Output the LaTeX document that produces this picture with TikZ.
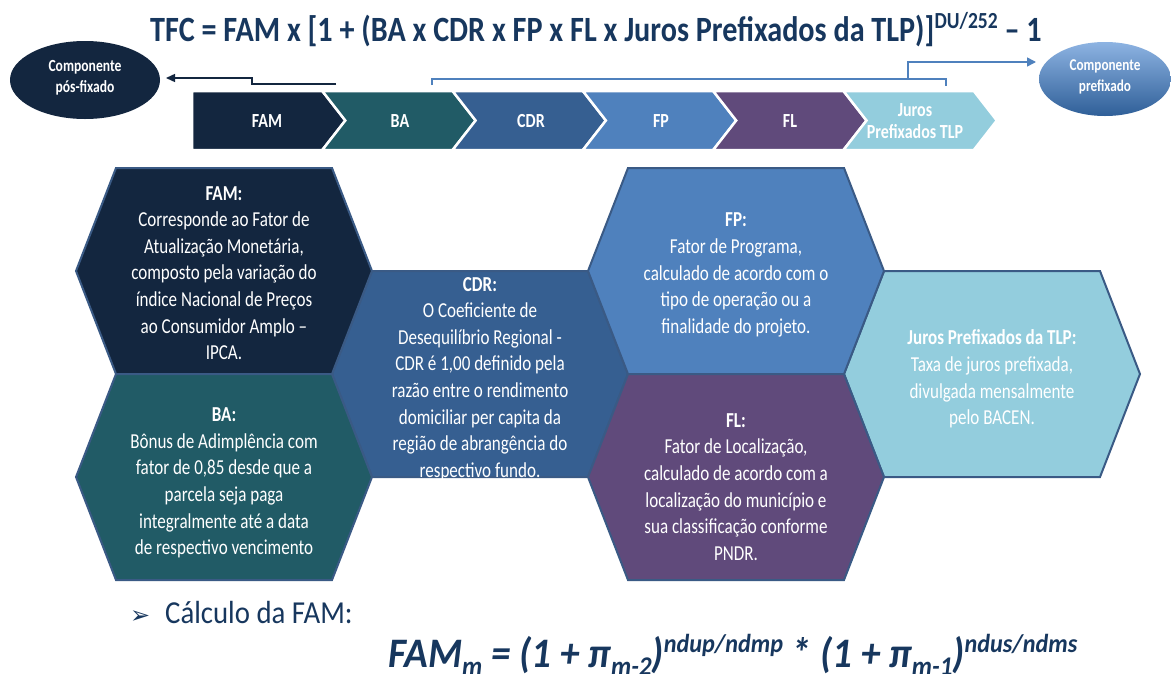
\documentclass[tikz,border=0pt]{standalone}
\usepackage{fontspec}
\setmainfont{Carlito}[FakeStretch=0.8]
\newfontfamily\titlefont{Carlito}[FakeStretch=0.85]
\newfontfamily\calcfont{Carlito}[FakeStretch=0.9]
\newfontfamily\formfont{Carlito}[FakeStretch=0.93]
\newfontfamily\dejavu{DejaVu Sans}
\usetikzlibrary{shapes.geometric,arrows.meta}
\definecolor{cNavy}{HTML}{13263F}
\definecolor{cFAM}{HTML}{13263F}
\definecolor{cBA}{HTML}{215B66}
\definecolor{cCDR}{HTML}{365F91}
\definecolor{cFP}{HTML}{4F81BD}
\definecolor{cFL}{HTML}{604A7B}
\definecolor{cJur}{HTML}{93CDDD}
\definecolor{cTitle}{HTML}{17375E}
\definecolor{cEdge}{HTML}{3A5A85}
\definecolor{cLine}{HTML}{4F81BD}
\definecolor{cEllTop}{HTML}{8DB3E2}
\definecolor{cEllBot}{HTML}{2F5F98}
\newcommand\myhex[3]{%
  \filldraw[hexbox, fill=#3] (#1-148,#2) -- (#1-108,#2-103) -- (#1+108,#2-103) -- (#1+148,#2) -- (#1+108,#2+103) -- (#1-108,#2+103) -- cycle;}
\newcommand\mychev[3]{%
  \filldraw[chevbox, fill=#2] (#1,91) -- (#1+130.3,91) -- (#1+153.3,120.5) -- (#1+130.3,150) -- (#1,150) -- (#1+#3*23,120.5) -- cycle;}
\newcommand\mysubs[1]{\raisebox{-8pt}{\fontsize{27}{28}\selectfont #1}}
\newcommand\mysups[1]{\raisebox{15pt}{\fontsize{26}{28}\selectfont #1}}
\tikzset{
  hexbox/.style={draw=cEdge, line width=2pt, line join=miter},
  chevbox/.style={draw=white, line width=2.5pt, line join=miter},
  chevlabel/.style={text=white, font=\bfseries\fontsize{20}{22}\selectfont, align=center, inner sep=0},
  hextext/.style={text=white, align=center, font=\fontsize{21.3}{26.6}\selectfont, inner sep=0},
  elltext/.style={text=white, align=center, font=\bfseries\fontsize{17}{21}\selectfont, inner sep=0},
  navyline/.style={draw=cNavy, line width=1.4pt},
  blueline/.style={draw=cLine, line width=1.6pt},
}
\begin{document}
\begin{tikzpicture}[x=1pt, y=-1pt]
\useasboundingbox (0,0) rectangle (1171,673);
\fill[white] (0,0) rectangle (1171,673);
% title
\node[anchor=base west, inner sep=0, text=cTitle, font=\titlefont\bfseries\fontsize{35.5}{38}\selectfont] (title) at (150,41)
  {TFC = FAM x [1 + (BA x CDR x FP x FL x Juros Prefixados da TLP)]\raisebox{13pt}{\fontsize{23}{24}\selectfont DU/252} – 1};
% ellipses
\node[ellipse, fill=cNavy, minimum width=150pt, minimum height=78pt, inner sep=0] (lell) at (85,80) {};
\node[elltext] (lelltxt) at (85,78) {Componente\\pós-fixado};
\node[ellipse, top color=cEllTop, bottom color=cEllBot, minimum width=132pt, minimum height=74pt, inner sep=0] (rell) at (1105,79) {};
\node[elltext, font=\bfseries\fontsize{16.5}{21}\selectfont] (relltxt) at (1105,77) {Componente\\prefixado};
% connectors
\coordinate (lA) at (336,84);
\coordinate (lB) at (252,84);
\coordinate (lC) at (252,78);
\coordinate (lD) at (166,78);
\draw[navyline, -{Triangle[length=9pt,width=8pt]}] (lA) -- (lB) -- (lC) -- (lD);
\coordinate (rb1) at (432,85);
\coordinate (rb2) at (432,79);
\coordinate (rb3) at (946,79);
\coordinate (rb4) at (946,86);
\coordinate (rm) at (908,79);
\coordinate (rup) at (908,62);
\coordinate (rD) at (1036,62);
\draw[blueline] (rb1) -- (rb2) -- (rb3) -- (rb4);
\draw[blueline, -{Triangle[length=9pt,width=9pt]}] (rm) -- (rup) -- (rD);
% chevrons
\mychev{192}{cFAM}{0}
\mychev{322.3}{cBA}{1}
\mychev{452.6}{cCDR}{1}
\mychev{582.9}{cFP}{1}
\mychev{713.2}{cFL}{1}
\mychev{843.5}{cJur}{1}
\node[chevlabel] (cv1) at (267,121) {FAM};
\node[chevlabel] (cv2) at (400,121) {BA};
\node[chevlabel] (cv3) at (531,121) {CDR};
\node[chevlabel] (cv4) at (661,121) {FP};
\node[chevlabel] (cv5) at (790,121) {FL};
\node[chevlabel] (cv6) at (915,121) {Juros\\Prefixados TLP};
% hexagons
\myhex{480}{374}{cCDR}
\myhex{992}{374}{cJur}
\myhex{224}{271}{cFAM}
\myhex{224}{477}{cBA}
\myhex{736}{271}{cFP}
\myhex{736}{477}{cFL}
\node[hextext] (tFAM) at (224,273) {\textbf{FAM:}\\Corresponde ao Fator de\\Atualização Monetária,\\composto pela variação do\\índice Nacional de Preços\\ao Consumidor Amplo –\\IPCA.};
\node[hextext] (tBA) at (224,483) {\textbf{BA:}\\Bônus de Adimplência com\\fator de 0,85 desde que a\\parcela seja paga\\integralmente até a data\\de respectivo vencimento};
\node[hextext] (tCDR) at (480,379) {\textbf{CDR:}\\O Coeficiente de\\Desequilíbrio Regional -\\CDR é 1,00 definido pela\\razão entre o rendimento\\domiciliar per capita da\\região de abrangência do\\respectivo fundo.};
\node[hextext] (tFP) at (736,275) {\textbf{FP:}\\Fator de Programa,\\calculado de acordo com o\\tipo de operação ou a\\finalidade do projeto.};
\node[hextext] (tFL) at (736,487) {\textbf{FL:}\\Fator de Localização,\\calculado de acordo com a\\localização do município e\\sua classificação conforme\\PNDR.};
\node[hextext] (tJur) at (992,379) {\textbf{Juros Prefixados da TLP:}\\Taxa de juros prefixada,\\divulgada mensalmente\\pelo BACEN.};
% bottom
\node[anchor=base west, inner sep=0, text=cTitle, font=\dejavu\fontsize{24}{26}\selectfont] (bul) at (130,623) {➢};
\node[anchor=base west, inner sep=0, text=cTitle, font=\calcfont\fontsize{32}{34}\selectfont] (calc) at (165,623) {Cálculo da FAM:};
\node[anchor=base west, inner sep=0, text=cTitle, font=\formfont\bfseries\itshape\fontsize{42}{44}\selectfont] (fam) at (388,667)
  {FAM\mysubs{m} = (1 + π\mysubs{m-2})\mysups{ndup/ndmp} * (1 + π\mysubs{m-1})\mysups{ndus/ndms}};
\end{tikzpicture}
\end{document}
